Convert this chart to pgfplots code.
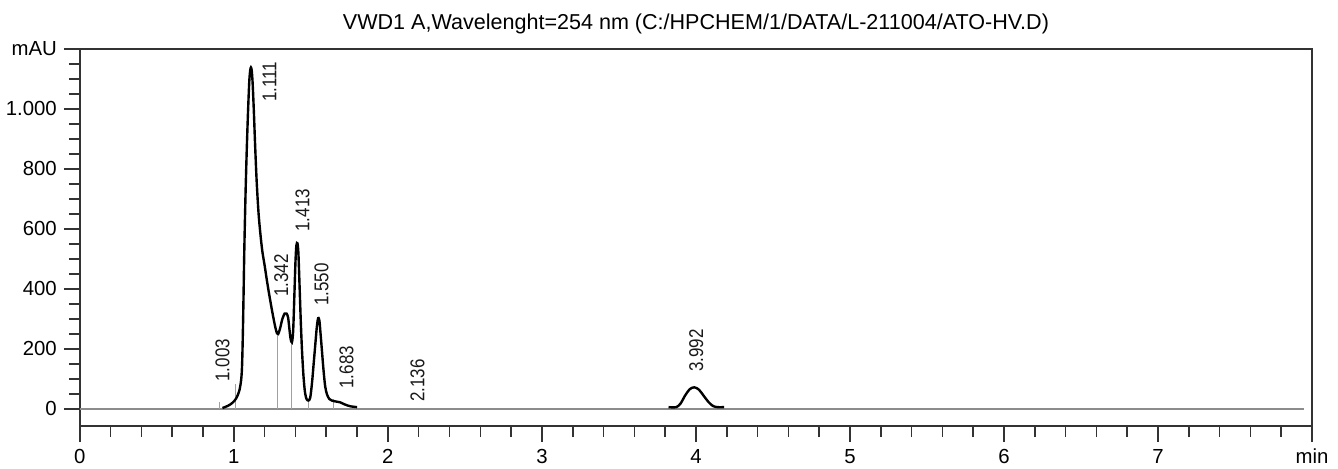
\documentclass[border=0pt]{standalone}
\usepackage{fontspec}
\setmainfont{Liberation Sans}
\newfontfamily\narrowfont[FakeStretch=0.85]{Liberation Sans}
\usepackage{pgfplots}
\pgfplotsset{compat=1.18}
\definecolor{frame}{HTML}{333333}
\definecolor{baseln}{HTML}{8C8C8C}
\definecolor{dropln}{HTML}{A0A0A0}
\begin{document}
\begin{tikzpicture}
\begin{axis}[
  name=ax, scale only axis,
  width=617.5pt, height=189pt,
  xmin=0, xmax=8, ymin=-57, ymax=1200,
  axis line style={frame, line width=0.8pt},
  xtick={0,1,...,8}, xticklabels={0,1,2,3,4,5,6,7,min},
  minor x tick num=4,
  ytick={0,200,...,1200}, yticklabels={0,200,400,600,800,1.000,mAU},
  minor ytick={50,100,...,1150},
  tick align=outside, xtick pos=left, ytick pos=left,
  major tick length=8pt, minor tick length=5.5pt,
  every tick/.style={frame, line width=0.8pt},
  ticklabel style={font=\fontsize{10.2}{12}\selectfont},
  /pgf/number format/assume math mode=true,
  clip=false,
]
% baseline
\addplot[baseln, line width=1.3pt] coordinates {(0,0) (7.95,0)};
% drop lines
\addplot[ycomb, dropln, line width=0.5pt, no marks] coordinates {
  (0.905,24) (1.009,83) (1.286,250) (1.377,222) (1.484,28) (1.647,33)};
% signal
\addplot[black, line width=1.2pt, smooth, tension=0.5] coordinates {
  (0.926,3) (0.96,10) (0.99,20) (1.015,35) (1.035,60) (1.047,95)
  (1.053,140) (1.058,240) (1.063,380) (1.068,533) (1.076,720) (1.084,867)
  (1.092,990) (1.100,1090) (1.106,1128) (1.111,1138) (1.116,1128)
  (1.122,1085) (1.130,990) (1.138,880) (1.148,760) (1.160,655) (1.172,585)
  (1.185,525) (1.200,478) (1.214,430) (1.230,380) (1.250,322) (1.268,275)
  (1.280,252) (1.288,250) (1.300,268) (1.315,300) (1.330,318) (1.342,318)
  (1.352,305) (1.360,270) (1.368,235) (1.377,222) (1.385,260) (1.393,380)
  (1.400,490) (1.406,545) (1.413,552) (1.419,520) (1.426,420) (1.434,300)
  (1.442,200) (1.452,110) (1.462,55) (1.472,33) (1.484,28) (1.496,38)
  (1.508,90) (1.518,150) (1.528,210) (1.538,270) (1.545,298) (1.550,303)
  (1.556,292) (1.563,250) (1.571,200) (1.582,130) (1.593,75) (1.605,48)
  (1.620,33) (1.636,28) (1.660,25) (1.690,22) (1.720,15) (1.755,9) (1.800,6)};
\addplot[black, line width=1.2pt, smooth, tension=0.5] coordinates {
  (3.822,6) (3.872,6) (3.90,18) (3.93,45) (3.96,66) (3.99,72) (4.02,64)
  (4.05,44) (4.08,24) (4.11,10) (4.14,6) (4.183,6)};
% peak labels
\begin{scope}[every node/.style={rotate=90, anchor=south west, inner sep=0pt,
    font=\narrowfont\fontsize{10}{12}\selectfont, text=black!90}]
\node at (axis cs:0.974,90) {1.003};
\node at (axis cs:1.279,1023) {1.111};
\node at (axis cs:1.357,373) {1.342};
\node at (axis cs:1.494,590) {1.413};
\node at (axis cs:1.617,343) {1.550};
\node at (axis cs:1.780,67) {1.683};
\node at (axis cs:2.240,23) {2.136};
\node at (axis cs:4.050,123) {3.992};
\end{scope}
\end{axis}
\node[anchor=base, inner sep=0pt, font=\fontsize{10.8}{12}\selectfont]
  at ([yshift=9.5pt]ax.north) {VWD1 A,Wavelenght=254 nm (C:/HPCHEM/1/DATA/L-211004/ATO-HV.D)};
\pgfresetboundingbox
\path[use as bounding box] ([xshift=-40pt,yshift=-21.5pt]ax.south west)
  rectangle ([xshift=13pt,yshift=24.5pt]ax.north east);
\end{tikzpicture}
\end{document}
